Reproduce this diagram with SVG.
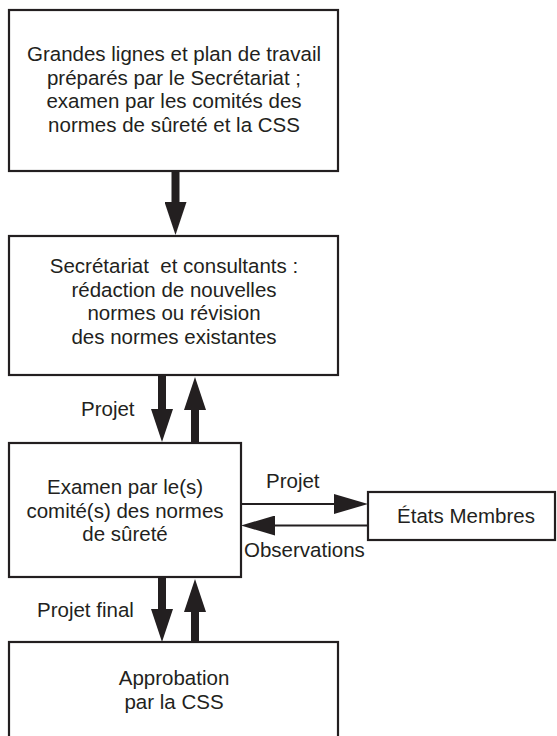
<svg xmlns="http://www.w3.org/2000/svg" width="557" height="736" viewBox="0 0 557 736">
<style>
.box{fill:#fff;stroke:#231f20;stroke-width:2.2}
.t{font-family:"Liberation Sans",Arial,Helvetica,sans-serif;font-size:20.5px;fill:#231f20}
.c{text-anchor:middle}
.thick{stroke:#231f20;stroke-width:8;fill:none;marker-end:url(#hk)}
.thin{stroke:#231f20;stroke-width:2;fill:none;marker-end:url(#hn)}
</style>
<defs>
<marker id="hk" viewBox="0 0 33 22" refX="2" refY="11" markerWidth="33" markerHeight="22" markerUnits="userSpaceOnUse" orient="auto">
<path d="M0,0 L33,11 L0,22 z" fill="#231f20"/>
</marker>
<marker id="hn" viewBox="0 0 34 20" refX="2" refY="10" markerWidth="34" markerHeight="20" markerUnits="userSpaceOnUse" orient="auto">
<path d="M0,0 L34,10 L0,20 z" fill="#231f20"/>
</marker>
</defs>
<rect width="557" height="736" fill="#fff"/>
<g id="connectors">
<line class="thick" x1="175.5" y1="171" x2="175.5" y2="204"/>
<line class="thick" x1="162" y1="375" x2="162" y2="411"/>
<line class="thick" x1="195" y1="443" x2="195" y2="408"/>
<line class="thick" x1="162" y1="577" x2="162" y2="611"/>
<line class="thick" x1="195" y1="642" x2="195" y2="610"/>
<line class="thin" x1="241" y1="504" x2="336" y2="504"/>
<line class="thin" x1="368" y1="525.5" x2="273" y2="525.5"/>
<text class="t" x="81" y="416">Projet</text>
<text class="t" x="37" y="617">Projet final</text>
<text class="t" x="266" y="488">Projet</text>
<text class="t" x="244" y="557">Observations</text>
</g>
<g id="n1">
<rect class="box" x="9" y="10" width="329" height="161"/>
<text class="t c" x="174" y="61">Grandes lignes et plan de travail</text>
<text class="t c" x="174" y="84.5">préparés par le Secrétariat ;</text>
<text class="t c" x="174" y="108">examen par les comités des</text>
<text class="t c" x="174" y="131.5">normes de sûreté et la CSS</text>
</g>
<g id="n2">
<rect class="box" x="9" y="236" width="329" height="139"/>
<text class="t c" x="174" y="273" xml:space="preserve">Secrétariat  et consultants :</text>
<text class="t c" x="174" y="296.5">rédaction de nouvelles</text>
<text class="t c" x="174" y="320">normes ou révision</text>
<text class="t c" x="174" y="343.5">des normes existantes</text>
</g>
<g id="n3">
<rect class="box" x="9" y="443" width="232" height="134"/>
<text class="t c" x="125" y="494">Examen par le(s)</text>
<text class="t c" x="125" y="517.5">comité(s) des normes</text>
<text class="t c" x="125" y="541">de sûreté</text>
</g>
<g id="n4">
<rect class="box" x="368" y="492" width="187" height="48"/>
<text class="t c" x="466" y="523">États Membres</text>
</g>
<g id="n5">
<rect class="box" x="9" y="642" width="329" height="110"/>
<text class="t c" x="174" y="685">Approbation</text>
<text class="t c" x="174" y="708.5">par la CSS</text>
</g>
</svg>
